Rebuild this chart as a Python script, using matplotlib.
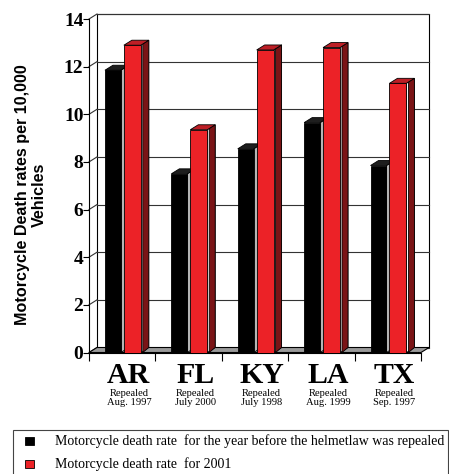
import matplotlib
matplotlib.use('Agg')
import matplotlib.pyplot as plt
from matplotlib.patches import Polygon, Rectangle

# ── Data ──────────────────────────────────────────────────────────────────────
states = ['AR', 'FL', 'KY', 'LA', 'TX']
repealed = ['Repealed\nAug. 1997', 'Repealed\nJuly 2000', 'Repealed\nJuly 1998',
            'Repealed\nAug. 1999', 'Repealed\nSep. 1997']
rate_before = [11.85, 7.5, 8.55, 9.65, 7.85]
rate_2001 = [12.9, 9.35, 12.7, 12.8, 11.3]
yticks = [0, 2, 4, 6, 8, 10, 12, 14]
legend_labels = ['Motorcycle death rate  for the year before the helmetlaw was repealed',
                 'Motorcycle death rate  for 2001']

SERIF = 'Liberation Serif'
SANS = 'Liberation Sans'
RED = '#ec2227'
RED_TOP = '#bd1f26'
RED_SIDE = '#7a1416'
FLOOR = '#9a9a9a'
W, H = 449, 474

fig = plt.figure(figsize=(W / 100, H / 100), dpi=100)
ax = fig.add_axes([89 / W, (H - 352.5) / H, 332 / W, 333.5 / H])
ax.set_xlim(0, len(states))
ax.set_ylim(0, 14)

# depth of the pseudo-3D box, in data units (8 px right, 5 px up)
DX = 8 / (332 / len(states))
DY = 5 / (333.5 / 14)
n = len(states)


def poly(pts, fc, z, ec='black', lw=0.6):
    ax.add_patch(Polygon(pts, closed=True, fc=fc, ec=ec, lw=lw, zorder=z, clip_on=False))


# back wall + floor
poly([(DX, DY), (n + DX, DY), (n + DX, 14 + DY), (DX, 14 + DY)], 'white', 0.5, lw=0.8)
for y in yticks:
    ax.plot([DX, n + DX], [y + DY, y + DY], color='#333333', lw=0.8, zorder=0.6, clip_on=False)
    ax.plot([0, DX], [y, y + DY], color='#333333', lw=0.8, zorder=0.6, clip_on=False)
poly([(0, 0), (n, 0), (n + DX, DY), (DX, DY)], FLOOR, 0.7, lw=0.8)

# bars
bw_black, bw_red = 0.24, 0.255
xb = [i + 0.24 for i in range(n)]
xr = [i + 0.525 for i in range(n)]
z = 1
for i in range(n):
    x, v, w = xb[i], rate_before[i], bw_black
    poly([(x + w, 0), (x + w, v), (x + w + DX, v + DY), (x + w + DX, DY)], '#b5b5b5', z)
    poly([(x, v), (x + w, v), (x + w + DX, v + DY), (x + DX, v + DY)], '#1e1e1e', z + 0.01)
    z += 0.1
ax.bar(xb, rate_before, width=bw_black, align='edge', color='black',
       edgecolor='black', lw=0.6, zorder=z)
z += 0.1
gap = 2 / (332 / n)
for i in range(n):
    x, v, w = xr[i], rate_2001[i], bw_red
    poly([(x + w, 0), (x + w, v), (x + w + DX, v + DY), (x + w + DX, DY)], 'white', z, lw=0.5)
    poly([(x + w + gap, 0), (x + w + gap, v + DY * gap / DX),
          (x + w + DX, v + DY), (x + w + DX, DY)], RED_SIDE, z + 0.01, lw=0.6)
    poly([(x, v), (x + w, v), (x + w + DX, v + DY), (x + DX, v + DY)], RED_TOP, z + 0.02)
    z += 0.1
ax.bar(xr, rate_2001, width=bw_red, align='edge', color=RED,
       edgecolor='black', lw=0.6, zorder=z)

# axes styling
for s in ['top', 'right']:
    ax.spines[s].set_visible(False)
ax.spines['left'].set_linewidth(0.8)
ax.spines['bottom'].set_linewidth(0.8)
ax.spines['left'].set_zorder(0.8)
ax.spines['bottom'].set_zorder(0.8)
ax.set_facecolor('none')
ax.set_yticks(yticks)
ax.set_yticklabels([str(t) for t in yticks], fontfamily=SERIF, fontweight='bold', fontsize=14)
ax.tick_params(axis='y', direction='out', length=4, width=0.8, pad=0)
ax.set_xticks(range(n + 1))
ax.set_xticklabels([])
ax.tick_params(axis='x', direction='out', length=6, width=0.8)

# category labels
tr = ax.get_xaxis_transform()
for i in range(n):
    ax.text(i + 0.6, -0.091, states[i], transform=tr, ha='center', va='baseline',
            fontfamily=SERIF, fontweight='bold', fontsize=21.5)
    ax.text(i + 0.6, -0.108, repealed[i], transform=tr, ha='center', va='top',
            fontfamily=SERIF, fontsize=7.6, linespacing=1.05)

fig.text(31 / W, (H - 195) / H, 'Motorcycle Death rates per 10,000\nVehicles',
         rotation=90, ha='center', va='center', multialignment='center',
         fontfamily=SANS, fontweight='bold', fontsize=11.6, linespacing=1.2)

# legend box (runs off the bottom/right edge like the original)
fig.patches.append(Rectangle((13 / W, (H - 490) / H), 435 / W, 60 / H,
                             transform=fig.transFigure, fc='white', ec='#444444', lw=0.8))
for k, (c, lab) in enumerate(zip(['black', RED], legend_labels)):
    yc = 441 + k * 23
    fig.patches.append(Rectangle((25 / W, (H - yc - 4) / H), 9 / W, 8 / H,
                                 transform=fig.transFigure, fc=c, ec='black', lw=0.6))
    fig.text(55 / W, (H - yc) / H, lab, ha='left', va='center',
             fontfamily=SERIF, fontsize=10)

fig.savefig('out.png', dpi=100)
